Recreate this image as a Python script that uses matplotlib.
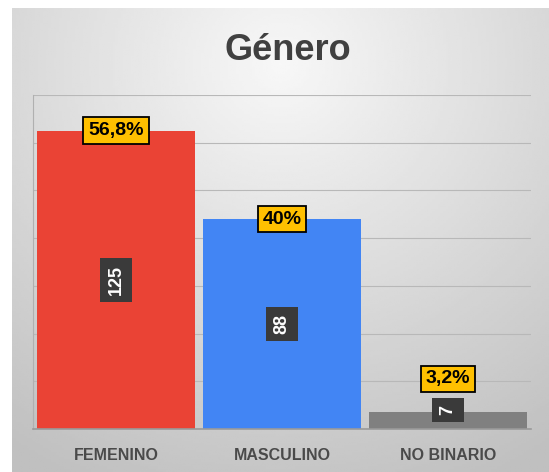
import matplotlib.pyplot as plt
import numpy as np

cats = ["FEMENINO", "MASCULINO", "NO BINARIO"]
counts = [125, 88, 7]
pcts = ["56,8%", "40%", "3,2%"]
colors = ["#EA4335", "#4285F4", "#808080"]

W, H = 549, 472
fig = plt.figure(figsize=(W / 100, H / 100), dpi=100)
fig.patch.set_facecolor("white")

# gray gradient panel behind the chart
bg = fig.add_axes([12 / W, 0, (W - 12) / W, (H - 8) / H])
yy, xx = np.mgrid[0:1:200j, 0:1:200j]
r = np.sqrt(((xx - 0.5) * 1.1) ** 2 + ((yy - 0.12) * 1.0) ** 2)
shade = 0.97 - 0.22 * np.clip(r, 0, 1)
bg.imshow(shade, cmap="gray", vmin=0, vmax=1, aspect="auto", extent=[0, 1, 1, 0])
bg.axis("off")

fam = ["Liberation Sans", "DejaVu Sans"]

ax = fig.add_axes([33 / W, 43 / H, 498 / W, (429 - 95) / H])
ax.patch.set_alpha(0)
x = np.arange(len(cats))
ax.bar(x, counts, width=0.95, color=colors, zorder=2)
ax.set_xlim(-0.5, 2.5)
ax.set_ylim(0, 140)
ax.set_yticks(np.arange(0, 141, 20))
ax.yaxis.grid(True, color="#b8b8b8", lw=0.8, zorder=0)
ax.tick_params(left=False, labelleft=False, bottom=False)
for s in ["top", "right"]:
    ax.spines[s].set_visible(False)
ax.spines["left"].set_color("#b0b0b0")
ax.spines["bottom"].set_color("#9a9a9a")
ax.spines["bottom"].set_linewidth(1.2)
ax.set_xticks(x)
ax.set_xticklabels(cats)
for lab in ax.get_xticklabels():
    lab.set_fontsize(11.5)
    lab.set_fontweight("bold")
    lab.set_color("#4a4a4a")
    lab.set_family(fam)
ax.tick_params(axis="x", pad=10)

for i, (c, p) in enumerate(zip(counts, pcts)):
    ax.text(i, max(c / 2, 8), str(c), rotation=90, ha="center", va="center",
            color="white", fontsize=13, fontweight="bold", zorder=4, family=fam,
            bbox=dict(boxstyle="square,pad=0.4", fc="#3a3a3a", ec="none"))
    ax.text(i, max(c, 21), p, ha="center", va="center", color="black",
            fontsize=14, fontweight="bold", zorder=4, family=fam,
            bbox=dict(boxstyle="square,pad=0.25", fc="#FFC000", ec="black", lw=1.3))

fig.text(288 / W, 1 - 50 / H, "Género", ha="center", va="center", fontsize=26,
         fontweight="bold", color="#404040", family=fam)

fig.savefig("out.png", dpi=100)
